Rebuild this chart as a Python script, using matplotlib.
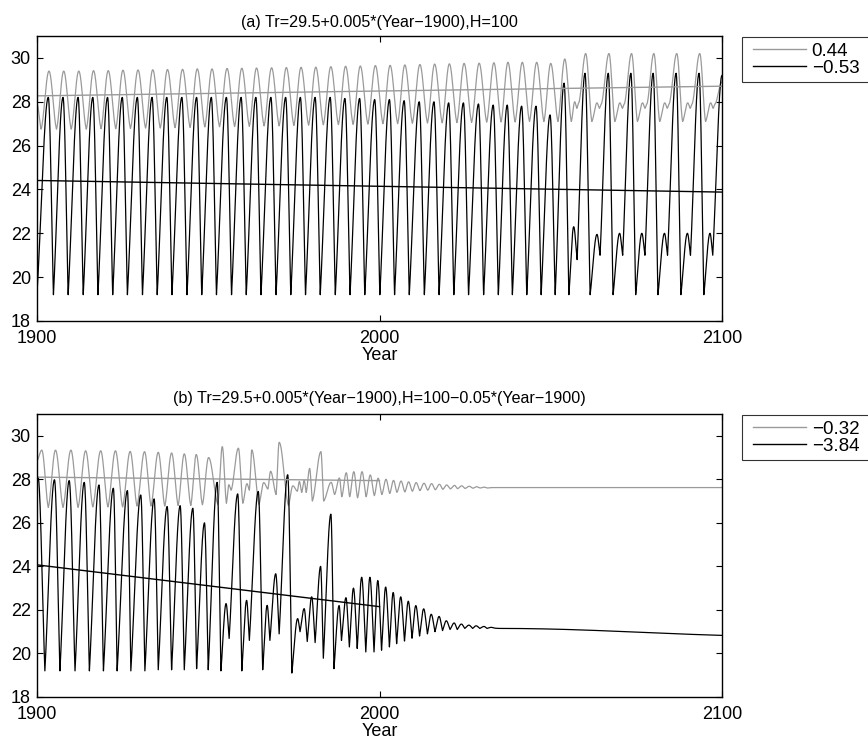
import numpy as np
import matplotlib
matplotlib.use("Agg")
import matplotlib.pyplot as plt
from matplotlib.legend_handler import HandlerLine2D

plt.rcParams['font.family'] = ['Liberation Sans', 'DejaVu Sans']

# ---------------- data (turning points) ----------------
# Panel (a)
a_blk_t = [1900.0,
           1903.3, 1904.8, 1907.6, 1909.1, 1912.0, 1913.5, 1916.3, 1917.8, 1920.6, 1922.1,
           1924.9, 1926.4, 1929.3, 1930.8, 1933.6, 1935.1, 1937.9, 1939.4, 1942.3, 1943.8,
           1946.6, 1948.1, 1950.9, 1952.4, 1955.3, 1956.8, 1959.6, 1961.1, 1963.9, 1965.4,
           1968.3, 1969.8, 1972.6, 1974.1, 1976.9, 1978.4, 1981.2, 1982.7, 1985.6, 1987.1,
           1989.9, 1991.4, 1994.2, 1995.7, 1998.6, 2000.1, 2002.9, 2004.4, 2007.2, 2008.7,
           2011.6, 2013.1, 2015.9, 2017.4, 2020.2, 2021.7, 2024.5, 2026.0, 2028.9, 2030.4,
           2033.2, 2034.7, 2037.3, 2038.8, 2041.5, 2043.0, 2045.7, 2047.2, 2049.8, 2051.3,
           2053.9, 2055.3, 2056.7, 2057.7, 2060.0, 2061.5, 2063.5, 2064.4, 2066.8, 2068.2,
           2070.1, 2071.0, 2073.4, 2074.8, 2076.6, 2077.5, 2079.9, 2081.3, 2083.2, 2084.1,
           2086.6, 2088.0, 2089.9, 2090.8, 2093.3, 2094.7, 2096.5, 2097.3, 2100.0]
a_blk_v = [19.25,
           28.2, 19.2, 28.2, 19.2, 28.2, 19.2, 28.2, 19.2, 28.2, 19.2,
           28.2, 19.2, 28.2, 19.2, 28.2, 19.2, 28.2, 19.2, 28.2, 19.2,
           28.2, 19.2, 28.2, 19.2, 28.2, 19.2, 28.2, 19.2, 28.2, 19.2,
           28.2, 19.2, 28.2, 19.2, 28.2, 19.2, 28.2, 19.2, 28.2, 19.2,
           28.15, 19.2, 28.15, 19.2, 28.1, 19.2, 28.1, 19.2, 28.05, 19.2,
           28.0, 19.2, 28.0, 19.2, 27.95, 19.2, 27.95, 19.2, 27.9, 19.2,
           27.85, 19.2, 27.85, 19.2, 27.8, 19.2, 27.8, 19.2, 27.4, 19.2,
           28.85, 19.2, 22.3, 20.8, 29.3, 19.2, 21.95, 21.0, 29.3, 19.2,
           22.0, 21.0, 29.3, 19.2, 22.0, 21.0, 29.3, 19.2, 22.0, 21.0,
           29.3, 19.2, 22.0, 21.0, 29.3, 19.2, 22.0, 21.0, 29.2]

a_gry_t = [1900.0, 1901.2,
           1903.5, 1905.7, 1907.8, 1910.0, 1912.2, 1914.4, 1916.5, 1918.7, 1920.8, 1923.0,
           1925.1, 1927.3, 1929.5, 1931.7, 1933.8, 1936.0, 1938.1, 1940.3, 1942.5, 1944.7,
           1946.8, 1949.0, 1951.1, 1953.3, 1955.5, 1957.7, 1959.8, 1962.0, 1964.1, 1966.3,
           1968.5, 1970.7, 1972.8, 1975.0, 1977.1, 1979.3, 1981.4, 1983.6, 1985.8, 1988.0,
           1990.1, 1992.3, 1994.4, 1996.6, 1998.8, 2001.0, 2003.1, 2005.3, 2007.4, 2009.6,
           2011.8, 2014.0, 2016.1, 2018.3, 2020.4, 2022.6, 2024.7, 2026.9, 2029.1, 2031.3,
           2033.4, 2035.5, 2037.5, 2039.6, 2041.7, 2043.8, 2045.9, 2048.0, 2050.0, 2052.1,
           2054.1, 2056.0, 2057.0, 2057.6, 2058.2, 2060.2, 2062.0, 2063.5, 2064.2, 2064.8,
           2067.0, 2068.7, 2070.2, 2070.9, 2071.5, 2073.6, 2075.3, 2076.8, 2077.5, 2078.1,
           2080.1, 2081.8, 2083.3, 2084.0, 2084.6, 2086.8, 2088.5, 2090.0, 2090.7, 2091.3,
           2093.5, 2095.2, 2096.7, 2097.4, 2098.0, 2100.0]
a_gry_v = [27.9, 26.75,
           29.4, 26.75, 29.4, 26.75, 29.4, 26.75, 29.42, 26.77, 29.42, 26.77,
           29.44, 26.78, 29.45, 26.8, 29.46, 26.8, 29.47, 26.82, 29.48, 26.83,
           29.5, 26.85, 29.5, 26.86, 29.52, 26.87, 29.53, 26.88, 29.54, 26.9,
           29.55, 26.9, 29.56, 26.92, 29.57, 26.93, 29.58, 26.95, 29.6, 26.96,
           29.62, 26.97, 29.63, 26.98, 29.65, 27.0, 29.66, 27.0, 29.68, 27.02,
           29.7, 27.03, 29.72, 27.04, 29.73, 27.05, 29.75, 27.06, 29.76, 27.07,
           29.78, 27.08, 29.8, 27.08, 29.8, 27.1, 29.8, 27.1, 29.75, 27.1,
           29.95, 27.1, 28.0, 27.7, 27.95, 30.2, 27.1, 27.95, 27.7, 27.9,
           30.2, 27.1, 27.95, 27.7, 27.9, 30.2, 27.1, 27.95, 27.7, 27.9,
           30.2, 27.1, 27.95, 27.7, 27.9, 30.2, 27.1, 27.95, 27.7, 27.9,
           30.2, 27.1, 27.95, 27.7, 27.9, 28.9]

# trend lines (a)
a_trend_years = [1900, 2100]
a_gry_trend = [28.27, 28.71]
a_blk_trend = [24.41, 23.88]
a_labels = ['0.44', '\u22120.53']

# Panel (b)
b_blk_t = [1900.0, 1900.3, 1902.3, 1905.1, 1906.7, 1909.4, 1911.1, 1913.8, 1915.3, 1918.1, 1919.4,
           1922.3, 1923.4, 1926.4, 1927.4, 1930.3, 1931.5, 1934.2, 1935.4, 1938.0, 1939.3,
           1941.8, 1943.0, 1945.5, 1946.6, 1948.9, 1950.0, 1952.6, 1953.7, 1955.2, 1956.1,
           1958.6, 1959.8, 1961.2, 1962.0, 1964.6, 1965.9, 1967.2, 1968.0, 1969.7, 1970.7,
           1973.2, 1974.4, 1976.1, 1976.8, 1978.0, 1978.9, 1980.2, 1981.2, 1982.8, 1983.6,
           1985.8, 1986.7, 1988.2, 1988.9, 1990.2, 1991.2, 1992.4, 1993.5, 1994.8, 1996.0,
           1997.2, 1998.4, 1999.5, 2000.6, 2001.8, 2002.9, 2004.0, 2005.0, 2006.2, 2007.3,
           2008.4, 2009.5, 2010.6, 2011.7, 2012.9, 2014.0, 2015.1, 2016.2, 2017.4, 2018.4,
           2019.5, 2020.6, 2021.8, 2022.7, 2023.9, 2024.9, 2026.1, 2027.2, 2028.2, 2029.3,
           2030.5, 2031.4, 2032.6, 2033.6, 2035.0, 2100.0]
b_blk_v = [28.0, 28.1, 19.2, 27.98, 19.2, 27.94, 19.2, 27.86, 19.2, 27.74, 19.2,
           27.59, 19.2, 27.48, 19.2, 27.28, 19.2, 27.10, 19.25, 26.75, 19.25,
           26.79, 19.25, 26.67, 19.3, 26.0, 19.25, 27.86, 19.2, 22.29, 20.69,
           27.33, 19.2, 22.44, 20.6, 27.44, 19.25, 22.21, 20.6, 23.66, 20.9,
           28.21, 19.1, 21.6, 21.0, 22.06, 20.55, 22.6, 20.5, 24.0, 19.78,
           26.4, 19.3, 22.2, 20.6, 22.56, 20.3, 23.0, 20.23, 23.5, 20.07,
           23.5, 20.07, 23.35, 20.15, 23.05, 20.3, 22.8, 20.45, 22.6, 20.57,
           22.4, 20.7, 22.2, 20.8, 22.05, 20.9, 21.8, 21.0, 21.7, 21.05,
           21.5, 21.1, 21.4, 21.1, 21.35, 21.15, 21.3, 21.15, 21.27, 21.15,
           21.24, 21.15, 21.2, 21.16, 21.15, 20.83]

b_gry_t = [1900.0, 1901.4, 1903.3, 1905.4, 1907.6, 1909.9, 1912.0, 1914.2, 1916.3, 1918.6, 1920.7,
           1922.9, 1925.0, 1927.2, 1929.2, 1931.4, 1933.3, 1935.4, 1937.3, 1939.3, 1941.2,
           1943.0, 1944.9, 1946.5, 1948.3, 1950.1, 1952.8, 1954.1, 1955.3, 1956.0, 1956.7,
           1958.8, 1960.1, 1961.3, 1962.0, 1962.7, 1964.8, 1966.2, 1967.4, 1968.2, 1969.8,
           1970.7, 1973.4, 1974.7, 1976.0, 1976.6, 1977.3, 1978.0, 1978.6, 1979.6, 1980.4,
           1982.9, 1983.7, 1985.9, 1986.9, 1988.3, 1989.0, 1990.3, 1991.3, 1992.5, 1993.6,
           1994.9, 1996.1, 1997.3, 1998.5, 1999.6, 2000.7, 2001.9, 2003.0, 2004.1, 2005.1,
           2006.3, 2007.4, 2008.5, 2009.6, 2010.7, 2011.8, 2013.0, 2014.1, 2015.2, 2016.3,
           2017.5, 2018.5, 2019.6, 2020.7, 2021.9, 2022.8, 2024.0, 2025.0, 2026.2, 2027.3,
           2028.3, 2029.4, 2030.6, 2031.5, 2033.0, 2100.0]
b_gry_v = [28.85, 29.34, 26.71, 29.34, 26.71, 29.34, 26.71, 29.31, 26.73, 29.31, 26.73,
           29.31, 26.73, 29.28, 26.77, 29.27, 26.77, 29.24, 26.77, 29.21, 26.8,
           29.17, 26.8, 29.14, 26.83, 29.0, 26.85, 29.5, 26.9, 27.75, 27.5,
           29.43, 26.9, 27.8, 27.5, 29.35, 26.85, 27.85, 27.55, 28.37, 27.3,
           29.7, 26.8, 27.7, 27.45, 27.9, 27.4, 27.95, 27.4, 28.5, 27.0,
           29.27, 27.0, 27.86, 27.3, 28.06, 27.2, 28.3, 27.2, 28.35, 27.15,
           28.35, 27.2, 28.2, 27.25, 28.05, 27.3, 28.0, 27.35, 27.95, 27.4,
           27.92, 27.42, 27.88, 27.45, 27.85, 27.48, 27.82, 27.5, 27.8, 27.52,
           27.77, 27.54, 27.74, 27.56, 27.72, 27.57, 27.7, 27.58, 27.68, 27.59,
           27.66, 27.6, 27.64, 27.6, 27.62, 27.62]

b_trend_years = [1900, 2000]
b_gry_trend = [28.1, 27.94]
b_blk_trend = [24.07, 22.15]
b_labels = ['\u22120.32', '\u22123.84']

titles = ['(a) Tr=29.5+0.005*(Year\u22121900),H=100',
          '(b) Tr=29.5+0.005*(Year\u22121900),H=100\u22120.05*(Year\u22121900)']
xticks = [1900, 2000, 2100]
yticks = [18, 20, 22, 24, 26, 28, 30]

GRAY = '#9a9a9a'
BLACK = '#000000'


def wave(ts, vs, sharp=0.0, n=30):
    xs, ys = [], []
    for i in range(len(ts) - 1):
        t0, t1 = ts[i], ts[i + 1]
        v0, v1 = vs[i], vs[i + 1]
        s = np.linspace(0, 1, n, endpoint=False)
        base = (1 - np.cos(np.pi * s)) / 2
        if v1 < v0:
            q = 1 - np.cos(np.pi / 2 * s)
        else:
            q = np.sin(np.pi / 2 * s)
        f = (1 - sharp) * base + sharp * q
        xs.append(t0 + s * (t1 - t0))
        ys.append(v0 + f * (v1 - v0))
    xs.append([ts[-1]])
    ys.append([vs[-1]])
    return np.concatenate(xs), np.concatenate(ys)


fig = plt.figure(figsize=(8.68, 7.46), dpi=100)
ax_a = fig.add_axes([37 / 868, 1 - 321 / 746, 685 / 868, 285 / 746])
ax_b = fig.add_axes([37 / 868, 1 - 697 / 746, 685 / 868, 283 / 746])

panels = [
    (ax_a, a_gry_t, a_gry_v, a_blk_t, a_blk_v, a_trend_years, a_gry_trend, a_blk_trend, a_labels, titles[0], 6.5),
    (ax_b, b_gry_t, b_gry_v, b_blk_t, b_blk_v, b_trend_years, b_gry_trend, b_blk_trend, b_labels, titles[1], 8.0),
]

for ax, gt, gv, bt, bv, ty, gtr, btr, labs, title, tpad in panels:
    x, y = wave(gt, gv, sharp=0.25)
    ax.plot(x, y, color=GRAY, lw=0.9)
    x, y = wave(bt, bv, sharp=0.6)
    ax.plot(x, y, color=BLACK, lw=0.9)
    l1, = ax.plot(ty, gtr, color=GRAY, lw=1.0)
    l2, = ax.plot(ty, btr, color=BLACK, lw=1.0)
    ax.set_xlim(1900, 2100)
    ax.set_ylim(18, 31)
    ax.set_xticks(xticks)
    ax.set_yticks(yticks)
    ax.tick_params(direction='in', top=True, right=True, length=4.5, width=0.8,
                   labelsize=13)
    ax.tick_params(axis='x', pad=6.5)
    ax.tick_params(axis='y', pad=4.5)
    for sp in ax.spines.values():
        sp.set_linewidth(1.0)
    ax.set_xlabel('Year', fontsize=13, labelpad=0)
    ax.set_title(title, fontsize=11.6, pad=tpad)
    hm = {l1: HandlerLine2D(xpad=0.3), l2: HandlerLine2D(xpad=0.3)}
    leg = ax.legend([l1, l2], labs, loc='upper left', mode='expand',
                    bbox_to_anchor=(1.029, 0.0, 0.35, 0.997), fontsize=13.5,
                    frameon=True, fancybox=False, edgecolor='black',
                    handlelength=3.12, handletextpad=0.3, borderpad=0.3,
                    labelspacing=0.0, borderaxespad=0.0, handler_map=hm)
    leg.get_frame().set_linewidth(0.8)

fig.savefig('out.png', dpi=100)
